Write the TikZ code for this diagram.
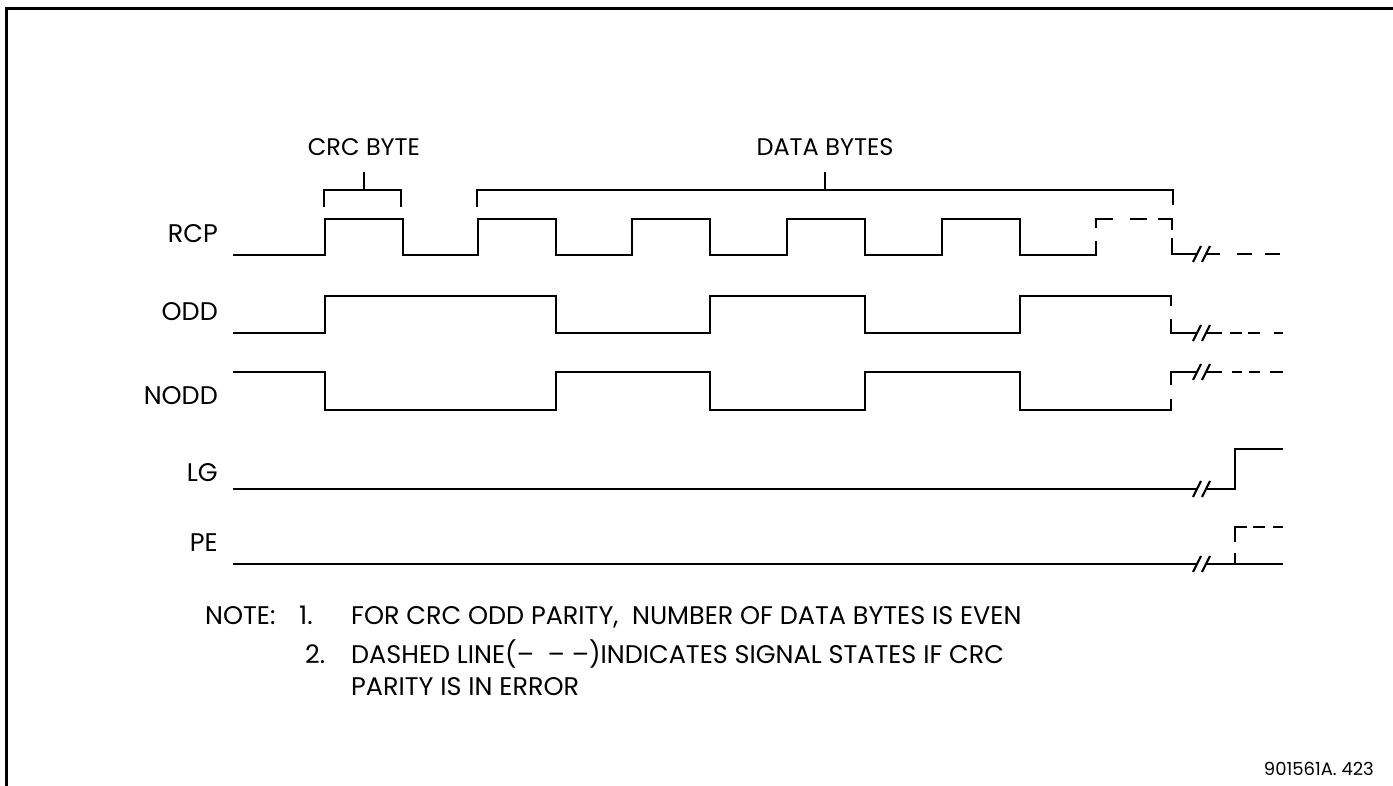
\documentclass[tikz,border=0pt]{standalone}
\usepackage{fontspec}
\setmainfont{Poppins}
\newcommand\brkmark[2]{%
  \draw[brk] (#1-4-1,#2+8) -- (#1+4-1,#2-8);
  \draw[brk] (#1-4+8,#2+8) -- (#1+4+8,#2-8);}
\begin{document}
\begin{tikzpicture}[x=1pt,y=-1pt,
  sig/.style={line width=2.2pt, line cap=butt, line join=miter},
  brk/.style={line width=2.2pt},
  lbl/.style={font=\fontsize{25.5}{25.5}\selectfont, inner sep=0pt},
  head/.style={font=\fontsize{24}{24}\selectfont, inner sep=0pt},
  small/.style={font=\fontsize{18}{18}\selectfont, inner sep=0pt}]
\useasboundingbox (0,0) rectangle (1393,786);
\draw[line width=3pt] (6,786) -- (6,9) -- (1393,9);

% brackets
\draw[sig] (324,207) -- (324,190) -- (401,190) -- (401,207);
\draw[sig] (364,190) -- (364,172);
\draw[sig] (477,207) -- (477,190) -- (1173,190) -- (1173,205);
\draw[sig] (825,190) -- (825,172);
\node[head, anchor=base] (crc) at (364,156) {CRC BYTE};
\node[head, anchor=base] (data) at (825,156) {DATA BYTES};

% labels
\node[lbl, anchor=base east] (lrcp) at (218,243) {RCP};
\node[lbl, anchor=base east] (lodd) at (218,321) {ODD};
\node[lbl, anchor=base east] (lnodd) at (218,404) {NODD};
\node[lbl, anchor=base east] (llg) at (218,481) {LG};
\node[lbl, anchor=base east] (lpe) at (218,551) {PE};

% RCP
\draw[sig] (233,255) -- (325,255) -- (325,219) -- (403,219) -- (403,255) -- (478,255) -- (478,219) -- (556,219) -- (556,255) -- (632,255) -- (632,219) -- (710,219) -- (710,255) -- (787,255) -- (787,219) -- (865,219) -- (865,255) -- (942,255) -- (942,219) -- (1020,219) -- (1020,255) -- (1096,255) -- (1096,241);
\draw[sig] (1096,228) -- (1096,219) -- (1113,219);
\draw[sig] (1130,219) -- (1147,219);
\draw[sig] (1158,219) -- (1172,219) -- (1172,230);
\draw[sig] (1172,238) -- (1172,254) -- (1197,254);
\brkmark{1198}{254}
\draw[sig] (1206,254) -- (1220,254);
\draw[sig] (1237,254) -- (1252,254);
\draw[sig] (1265,254) -- (1280,254);

% ODD
\draw[sig] (233,333) -- (325,333) -- (325,296) -- (556,296) -- (556,333) -- (710,333) -- (710,296) -- (865,296) -- (865,333) -- (1020,333) -- (1020,296) -- (1171,296) -- (1171,306);
\draw[sig] (1171,319) -- (1171,333) -- (1197,333);
\brkmark{1198}{333}
\draw[sig] (1206,333) -- (1222,333);
\draw[sig] (1230,333) -- (1242,333);
\draw[sig] (1248,333) -- (1260,333);
\draw[sig] (1274,333) -- (1283,333);

% NODD
\draw[sig] (233,372) -- (325,372) -- (325,410) -- (556,410) -- (556,372) -- (710,372) -- (710,410) -- (865,410) -- (865,372) -- (1020,372) -- (1020,410) -- (1171,410) -- (1171,399);
\draw[sig] (1171,385) -- (1171,372) -- (1197,372);
\brkmark{1198}{372}
\draw[sig] (1206,372) -- (1222,372);
\draw[sig] (1232,372) -- (1242,372);
\draw[sig] (1249,372) -- (1260,372);
\draw[sig] (1270,372) -- (1283,372);

% LG
\draw[sig] (233,489) -- (1197,489);
\brkmark{1198}{489}
\draw[sig] (1206,489) -- (1235,489) -- (1235,449) -- (1283,449);

% PE
\draw[sig] (233,564) -- (1197,564);
\brkmark{1198}{564}
\draw[sig] (1206,564) -- (1283,564);
\draw[sig] (1235,564) -- (1235,553);
\draw[sig] (1235,542) -- (1235,527) -- (1247,527);
\draw[sig] (1253,527) -- (1265,527);
\draw[sig] (1273,527) -- (1283,527);

% notes
\node[lbl, anchor=base west] (note) at (205,624) {NOTE:};
\node[lbl, anchor=base west] (n1) at (299,624) {1.};
\node[lbl, anchor=base west] (t1) at (351,624) {FOR CRC ODD PARITY,\ \ NUMBER OF DATA BYTES IS EVEN};
\node[lbl, anchor=base west] (n2) at (305,663) {2.};
\node[lbl, anchor=base west] (t2) at (351,663) {DASHED LINE(–\ \ – –)INDICATES SIGNAL STATES IF CRC};
\node[lbl, anchor=base west] (t3) at (351,695) {PARITY IS IN ERROR};
\node[small, anchor=base east] (code) at (1374,775) {901561A. 423};
\end{tikzpicture}
\end{document}
